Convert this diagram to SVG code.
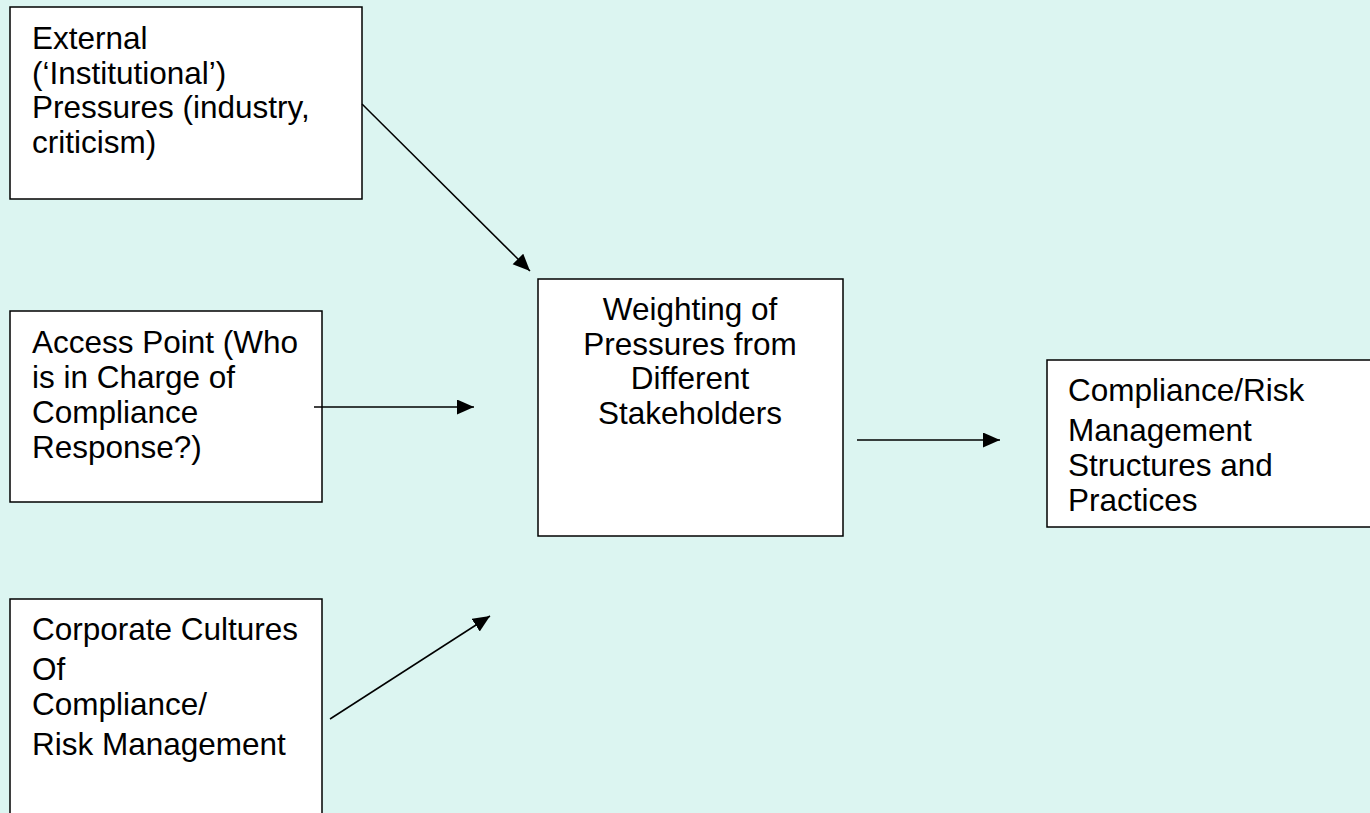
<svg xmlns="http://www.w3.org/2000/svg" width="1370" height="813" viewBox="0 0 1370 813">
<style>
.box{fill:#fff;stroke:#000;stroke-width:1.5}
.t{font-family:"Liberation Sans",Arial,sans-serif;font-size:31.5px;fill:#000}
.c{text-anchor:middle}
.ln{stroke:#000;stroke-width:1.5;fill:none;marker-end:url(#ah)}
</style>
<defs>
<marker id="ah" markerUnits="userSpaceOnUse" markerWidth="18" markerHeight="16" refX="17" refY="7.5" orient="auto">
<path d="M0,0 L17,7.5 L0,15 z" fill="#000"/>
</marker>
</defs>
<rect width="1370" height="813" fill="#DCF5F1"/>
<g id="n-external">
<rect class="box" x="10" y="7" width="352" height="192"/>
<text class="t" x="32" y="49">External</text>
<text class="t" x="32" y="84">(‘Institutional’)</text>
<text class="t" x="32" y="118">Pressures (industry,</text>
<text class="t" x="32" y="153">criticism)</text>
</g>
<g id="n-access">
<rect class="box" x="10" y="311" width="312" height="191"/>
<text class="t" x="32" y="353">Access Point (Who</text>
<text class="t" x="32" y="388">is in Charge of</text>
<text class="t" x="32" y="423">Compliance</text>
<text class="t" x="32" y="458">Response?)</text>
</g>
<g id="n-culture">
<rect class="box" x="10" y="599" width="312" height="230"/>
<text class="t" x="32" y="640">Corporate Cultures</text>
<text class="t" x="32" y="680">Of</text>
<text class="t" x="32" y="715">Compliance/</text>
<text class="t" x="32" y="755">Risk Management</text>
</g>
<g id="n-weighting">
<rect class="box" x="538" y="279" width="305" height="257"/>
<text class="t c" x="690" y="320">Weighting of</text>
<text class="t c" x="690" y="355">Pressures from</text>
<text class="t c" x="690" y="389">Different</text>
<text class="t c" x="690" y="424">Stakeholders</text>
</g>
<g id="n-structures">
<rect class="box" x="1047" y="360" width="340" height="167"/>
<text class="t" x="1068" y="401">Compliance/Risk</text>
<text class="t" x="1068" y="441">Management</text>
<text class="t" x="1068" y="476">Structures and</text>
<text class="t" x="1068" y="511">Practices</text>
</g>
<g id="connectors">
<line class="ln" x1="362" y1="104" x2="530" y2="271"/>
<line class="ln" x1="314" y1="407" x2="474" y2="407"/>
<line class="ln" x1="330" y1="719" x2="490" y2="616"/>
<line class="ln" x1="857" y1="440" x2="1000" y2="440"/>
</g>
</svg>
